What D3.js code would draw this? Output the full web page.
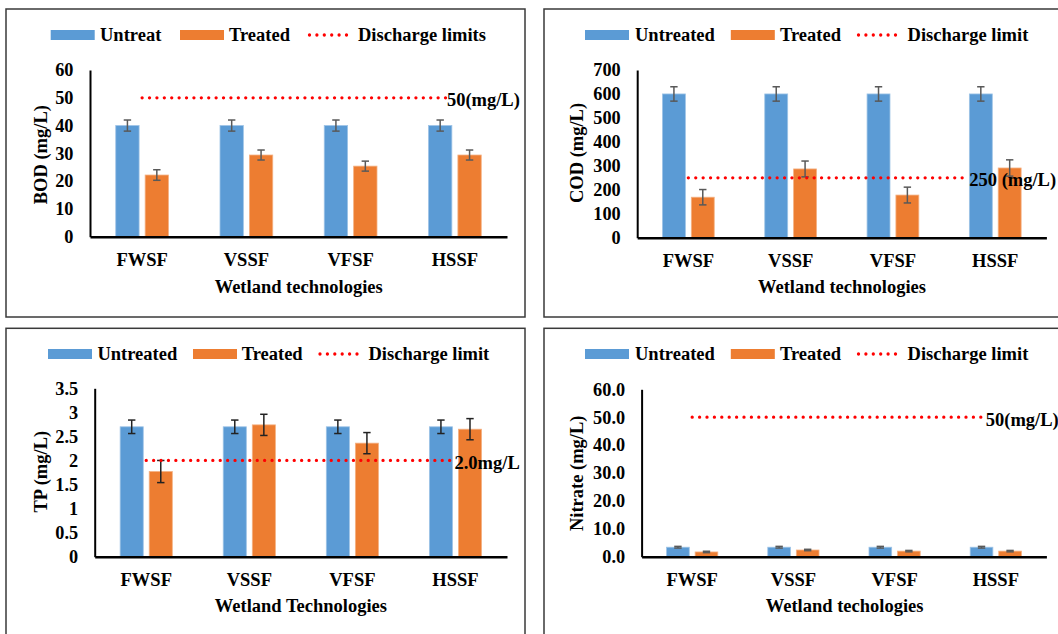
<!DOCTYPE html>
<html>
<head>
<meta charset="utf-8">
<script src="https://cdn.jsdelivr.net/npm/d3@7"></script>
<style>
  html, body { margin: 0; padding: 0; background: #fff; }
  svg { display: block; font-family: "Liberation Serif", "Times New Roman", serif; font-weight: bold; }
</style>
</head>
<body>
<div id="chart"></div>
<script>
// Categorias (tecnologias de wetland)
const categories = ['FWSF', 'VSSF', 'VFSF', 'HSSF'];

// BOD
const bodUntreated = [40, 40, 40, 40];
const bodUntreatedErr = [2, 2, 2, 2];
const bodTreated = [22.2, 29.4, 25.4, 29.4];
const bodTreatedErr = [1.9, 1.8, 1.8, 1.8];
const bodLimit = 50;
const bodTicks = [0, 10, 20, 30, 40, 50, 60];

// COD
const codUntreated = [600, 600, 600, 600];
const codUntreatedErr = [30, 30, 30, 30];
const codTreated = [169, 287, 178, 291];
const codTreatedErr = [32, 33, 33, 34];
const codLimit = 250;
const codTicks = [0, 100, 200, 300, 400, 500, 600, 700];

// TP
const tpUntreated = [2.7, 2.7, 2.7, 2.7];
const tpUntreatedErr = [0.14, 0.14, 0.14, 0.14];
const tpTreated = [1.77, 2.74, 2.36, 2.65];
const tpTreatedErr = [0.23, 0.22, 0.22, 0.22];
const tpLimit = 2;
const tpTicks = [0, 0.5, 1, 1.5, 2, 2.5, 3, 3.5];

// Nitrate
const nitUntreated = [3.4, 3.4, 3.4, 3.4];
const nitUntreatedErr = [0.3, 0.3, 0.3, 0.3];
const nitTreated = [1.7, 2.4, 2.0, 2.0];
const nitTreatedErr = [0.25, 0.25, 0.25, 0.25];
const nitLimit = 50;
const nitTicks = [0, 10, 20, 30, 40, 50, 60];

const colors = { untreated: '#5B9BD5', treated: '#ED7D31', limit: '#FF0000' };

// Painéis: dados + posição
const panels = [
  {
    untreated: bodUntreated, untreatedErr: bodUntreatedErr, treated: bodTreated, treatedErr: bodTreatedErr,
    limit: bodLimit, limitLabel: '50(mg/L)', ticks: bodTicks, fmt: d3.format(''),
    yTitle: 'BOD (mg/L)', xTitle: 'Wetland technologies',
    legend: ['Untreat', 'Treated', 'Discharge limits'], errColor: '#595959',
    box: [6, 9, 519, 308],
    x0: 90, x1: 507, yb: 236.7, yt: 70,
    yTitleX: 40.6, yTitleY: 154.7, xTitleX: 298.7, xTitleY: 286.7,
    legX: [50.7, 100, 180, 229, 308, 358], legY: 35, labelDx: -8, labelDy: 2
  },
  {
    untreated: codUntreated, untreatedErr: codUntreatedErr, treated: codTreated, treatedErr: codTreatedErr,
    limit: codLimit, limitLabel: '250 (mg/L)', ticks: codTicks, fmt: d3.format(''),
    yTitle: 'COD (mg/L)', xTitle: 'Wetland technologies',
    legend: ['Untreated', 'Treated', 'Discharge limit'], errColor: '#595959',
    box: [544, 9, 530, 308],
    x0: 637.2, x1: 1046.4, yb: 237.7, yt: 70,
    yTitleX: 577.3, yTitleY: 153, xTitleX: 842, xTitleY: 286.7,
    legX: [585, 635, 730.8, 780, 857, 907.6], legY: 35, labelDx: -26, labelDy: 2.5
  },
  {
    untreated: tpUntreated, untreatedErr: tpUntreatedErr, treated: tpTreated, treatedErr: tpTreatedErr,
    limit: tpLimit, limitLabel: '2.0mg/L', ticks: tpTicks, fmt: d3.format(''),
    yTitle: 'TP (mg/L)', xTitle: 'Wetland Technologies',
    legend: ['Untreated', 'Treated', 'Discharge limit'], errColor: '#222222',
    box: [6, 328.3, 519, 320],
    x0: 94.7, x1: 507, yb: 556.7, yt: 388.3,
    yTitleX: 40.6, yTitleY: 471.7, xTitleX: 300.9, xTitleY: 606,
    legX: [48, 97.4, 193, 241.7, 318.5, 368.5], legY: 354, labelDx: -1, labelDy: 2.6
  },
  {
    untreated: nitUntreated, untreatedErr: nitUntreatedErr, treated: nitTreated, treatedErr: nitTreatedErr,
    limit: nitLimit, limitLabel: '50(mg/L)', ticks: nitTicks, fmt: d3.format('.1f'),
    yTitle: 'Nitrate (mg/L)', xTitle: 'Wetland techologies',
    legend: ['Untreated', 'Treated', 'Discharge limit'], errColor: '#595959',
    box: [544, 328.3, 530, 320],
    x0: 641.6, x1: 1046.4, yb: 556.7, yt: 389.3,
    yTitleX: 577.3, yTitleY: 473.3, xTitleX: 844.6, xTitleY: 606,
    legX: [585, 635, 730.8, 780, 857, 907.6], legY: 354, labelDx: -10, labelDy: 2.6
  }
];

const svg = d3.select('#chart')
  .append('svg')
  .attr('width', 1058)
  .attr('height', 634);

panels.forEach(p => {
  const g = svg.append('g');

  // Moldura do painel
  g.append('rect')
    .attr('x', p.box[0]).attr('y', p.box[1])
    .attr('width', p.box[2]).attr('height', p.box[3])
    .attr('fill', 'none')
    .attr('stroke', '#3a3a3a')
    .attr('stroke-width', 1.5);

  const x = d3.scaleBand().domain(categories).range([p.x0, p.x1]);
  const y = d3.scaleLinear().domain([0, d3.max(p.ticks)]).range([p.yb, p.yt]);
  const band = x.bandwidth();
  const barW = band * 0.224;
  const gap = band * 0.058;
  const cx = c => x(c) + band / 2;

  const rows = categories.map((c, i) => ({
    cat: c,
    u: p.untreated[i], ue: p.untreatedErr[i],
    t: p.treated[i], te: p.treatedErr[i]
  }));

  // Barras
  g.selectAll('rect.u')
    .data(rows).enter().append('rect')
    .attr('class', 'u')
    .attr('x', d => cx(d.cat) - gap / 2 - barW)
    .attr('y', d => y(d.u))
    .attr('width', barW)
    .attr('height', d => y(0) - y(d.u))
    .attr('fill', colors.untreated)
    .attr('stroke', '#9DC3E6').attr('stroke-width', 0.8);

  g.selectAll('rect.t')
    .data(rows).enter().append('rect')
    .attr('class', 't')
    .attr('x', d => cx(d.cat) + gap / 2)
    .attr('y', d => y(d.t))
    .attr('width', barW)
    .attr('height', d => y(0) - y(d.t))
    .attr('fill', colors.treated)
    .attr('stroke', '#F4B183').attr('stroke-width', 0.8);

  // Barras de erro
  const errs = [];
  rows.forEach(d => {
    errs.push({ x: cx(d.cat) - gap / 2 - barW / 2, v: d.u, e: d.ue });
    errs.push({ x: cx(d.cat) + gap / 2 + barW / 2, v: d.t, e: d.te });
  });
  const eg = g.append('g')
    .attr('stroke', p.errColor)
    .attr('stroke-width', 1.5);
  errs.forEach(d => {
    eg.append('line').attr('x1', d.x).attr('x2', d.x).attr('y1', y(d.v - d.e)).attr('y2', y(d.v + d.e));
    eg.append('line').attr('x1', d.x - 3.7).attr('x2', d.x + 3.7).attr('y1', y(d.v - d.e)).attr('y2', y(d.v - d.e));
    eg.append('line').attr('x1', d.x - 3.7).attr('x2', d.x + 3.7).attr('y1', y(d.v + d.e)).attr('y2', y(d.v + d.e));
  });

  // Eixos
  const yAxis = g.append('g')
    .attr('transform', `translate(${p.x0},0)`)
    .call(d3.axisLeft(y).tickValues(p.ticks).tickFormat(p.fmt).tickSize(0).tickPadding(16.5));
  yAxis.select('.domain').attr('stroke', '#000').attr('stroke-width', 2);
  yAxis.selectAll('text')
    .attr('font-family', '"Liberation Serif", "Times New Roman", serif')
    .attr('font-weight', 'bold')
    .attr('font-size', '18.3px')
    .attr('fill', '#000');

  const xAxis = g.append('g')
    .attr('transform', `translate(0,${p.yb})`)
    .call(d3.axisBottom(x).tickSize(0).tickPadding(16));
  xAxis.select('.domain').attr('stroke', '#000').attr('stroke-width', 2.4);
  xAxis.selectAll('text')
    .attr('font-family', '"Liberation Serif", "Times New Roman", serif')
    .attr('font-weight', 'bold')
    .attr('font-size', '18.5px')
    .attr('fill', '#000');

  // Linha do limite de descarga
  const lx1 = cx(categories[0]);
  const lx2 = cx(categories[categories.length - 1]) + p.labelDx;
  g.append('line')
    .attr('x1', lx1).attr('x2', lx2)
    .attr('y1', y(p.limit)).attr('y2', y(p.limit))
    .attr('stroke', colors.limit)
    .attr('stroke-width', 3.3)
    .attr('stroke-linecap', 'round')
    .attr('stroke-dasharray', '0 7.4');

  g.append('text')
    .attr('x', lx2)
    .attr('y', y(p.limit) + p.labelDy)
    .attr('dominant-baseline', 'central')
    .attr('font-size', '18.5px')
    .text(p.limitLabel);

  // Títulos dos eixos
  g.append('text')
    .attr('transform', `translate(${p.yTitleX},${p.yTitleY}) rotate(-90)`)
    .attr('text-anchor', 'middle')
    .attr('dominant-baseline', 'central')
    .attr('font-size', '18.5px')
    .text(p.yTitle);

  g.append('text')
    .attr('x', p.xTitleX).attr('y', p.xTitleY)
    .attr('text-anchor', 'middle')
    .attr('dominant-baseline', 'central')
    .attr('font-size', '18.5px')
    .text(p.xTitle);

  // Legenda
  const lg = g.append('g');
  lg.append('rect').attr('x', p.legX[0]).attr('y', p.legY - 5).attr('width', 44).attr('height', 10).attr('fill', colors.untreated);
  lg.append('text').attr('x', p.legX[1]).attr('y', p.legY).attr('dominant-baseline', 'central').attr('font-size', '18.5px').text(p.legend[0]);
  lg.append('rect').attr('x', p.legX[2]).attr('y', p.legY - 5).attr('width', 44).attr('height', 10).attr('fill', colors.treated);
  lg.append('text').attr('x', p.legX[3]).attr('y', p.legY).attr('dominant-baseline', 'central').attr('font-size', '18.5px').text(p.legend[1]);
  lg.append('line')
    .attr('x1', p.legX[4] + 1.5).attr('x2', p.legX[4] + 42)
    .attr('y1', p.legY).attr('y2', p.legY)
    .attr('stroke', colors.limit)
    .attr('stroke-width', 3.3)
    .attr('stroke-linecap', 'round')
    .attr('stroke-dasharray', '0 7.4');
  lg.append('text').attr('x', p.legX[5]).attr('y', p.legY).attr('dominant-baseline', 'central').attr('font-size', '18.5px').text(p.legend[2]);
});
</script>
</body>
</html>
